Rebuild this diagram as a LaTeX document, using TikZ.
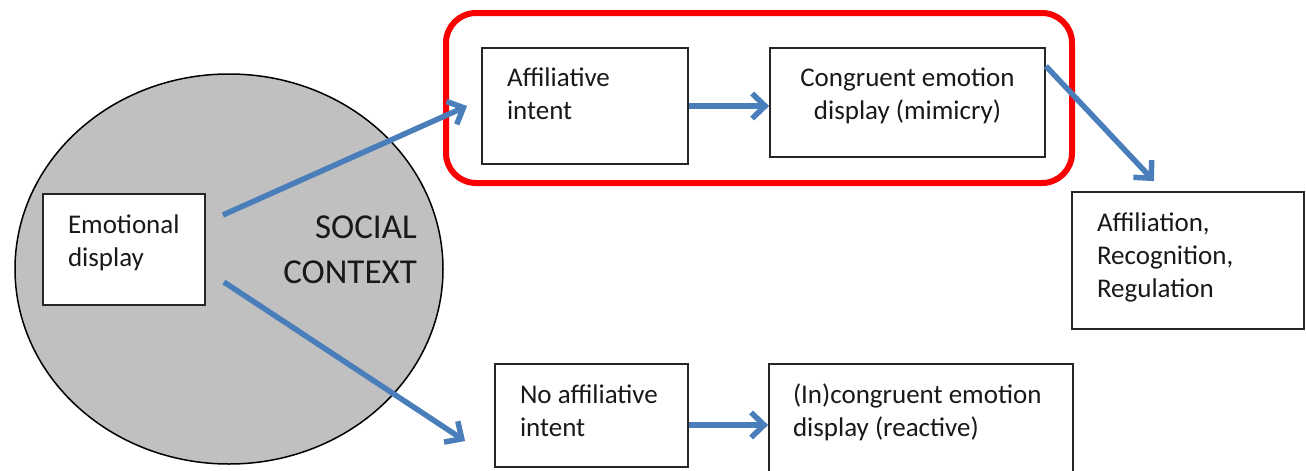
\documentclass[tikz,border=0pt]{standalone}
\usepackage{fontspec}
\setmainfont{Carlito}
\usetikzlibrary{arrows.meta,shapes.geometric,calc}
\definecolor{arrblue}{RGB}{74,126,187}
\definecolor{ctxgray}{RGB}{192,192,192}
\definecolor{frred}{RGB}{250,0,0}
\newcommand\boxfont{\fontsize{27}{33}\selectfont}
\begin{document}
\begin{tikzpicture}[x=1pt,y=-1pt,
  boxst/.style={draw=black!85, line width=1.8pt, fill=white, inner xsep=0pt, font=\boxfont, text=black!90},
  arr/.style={draw=arrblue, line width=5.5pt, -{Straight Barb[length=13pt,width=25pt]}},
  ctxst/.style={ellipse, draw=black, line width=1.5pt, fill=ctxgray, inner sep=0pt, minimum width=428pt, minimum height=390pt},
  frame/.style={draw=frred, line width=6pt, rounded corners=30pt}
]
\useasboundingbox (0,0) rectangle (1306,471);
\clip (0,0) rectangle (1306,471);
\fill[white] (0,0) rectangle (1306,471);

% social context ellipse
\node[ctxst] (ctx) at (229,269) {};
\node[inner sep=0pt, anchor=base east, text=black!90] (sc) at (417,238)
  {\parbox[t]{180pt}{\fontsize{35}{45}\selectfont\raggedleft SOCIAL\\CONTEXT}};

% red frame
\draw[frame] (446,13) rectangle (1072,183);

% boxes
\node[boxst, inner ysep=15.9pt] (ed) at (124,249.5)
  {\parbox[t][79.2pt][t]{162pt}{\raggedright\leftskip=25pt\strut Emotional\\display}};
\node[boxst, inner ysep=14.9pt] (ai) at (585,106)
  {\parbox[t][86.2pt][t]{206pt}{\raggedright\leftskip=25pt\strut Affiliative\\intent}};
\node[boxst, inner ysep=14.9pt] (ce) at (907.5,102.5)
  {\parbox[t][79.2pt][t]{275pt}{\centering\strut Congruent emotion\\display (mimicry)}};
\node[boxst, inner ysep=15.9pt] (aff) at (1188,260.5)
  {\parbox[t][105.2pt][t]{232pt}{\raggedright\leftskip=25pt\strut Affiliation,\\Recognition,\\Regulation}};
\node[boxst, inner ysep=15.9pt] (nai) at (591.5,415.5)
  {\parbox[t][71.2pt][t]{193pt}{\raggedright\leftskip=25pt\strut No affiliative\\intent}};
\node[boxst, inner ysep=15.9pt] (inc) at (921,420)
  {\parbox[t][80.2pt][t]{304pt}{\raggedright\leftskip=24pt\strut (In)congruent emotion\\display (reactive)}};

% connectors
\draw[arr] ([shift={(17pt,34.5pt)}]ed.east) -- ([shift={(-14pt,0pt)}]ai.west);
\draw[arr] ([shift={(18pt,-32.5pt)}]ed.east) -- ([shift={(-29pt,-25.5pt)}]nai.west);
\draw[arr] (ai.east) -- (ai.east -| ce.west);
\draw[arr] ([shift={(0pt,-19pt)}]ce.north east) -- ([shift={(83pt,10pt)}]aff.north west);
\draw[arr] ([shift={(0pt,-9.5pt)}]nai.east) -- ([shift={(0pt,-9.5pt)}]nai.east -| inc.west);
\end{tikzpicture}
\end{document}
